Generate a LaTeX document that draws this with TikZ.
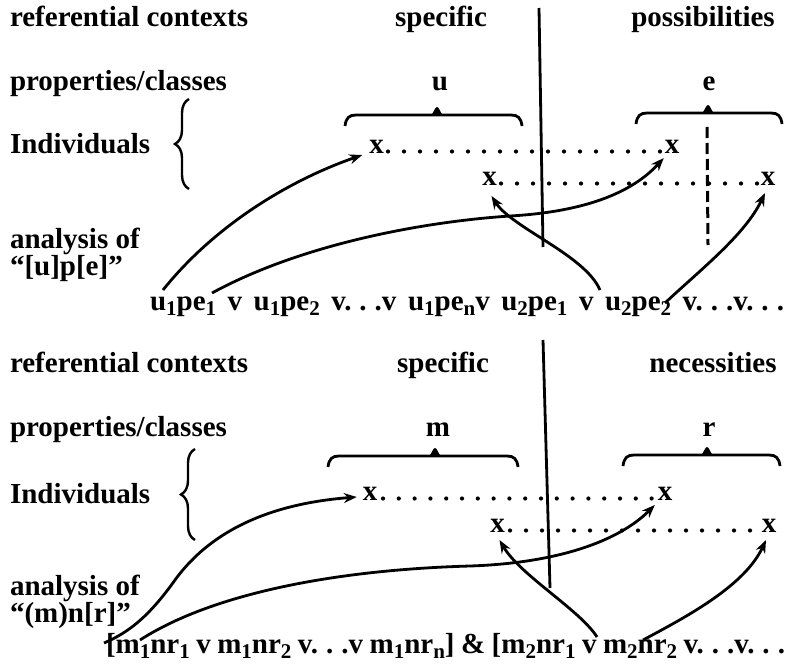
\documentclass[tikz,border=0pt]{standalone}
\usepackage{fontspec}
\setmainfont{Liberation Serif}
\usetikzlibrary{arrows.meta,calc,decorations.pathreplacing}
\newcommand\fsz{\fontsize{29pt}{33pt}\selectfont\bfseries}
\newcommand\lsub[1]{\raisebox{-0.18em}{\fontsize{21pt}{21pt}\selectfont #1}}
\newcommand\ddd{.\kern8pt.\kern8pt.}
\newcommand\ovbr[4]{%
  \draw[brk] (#1,#3+11) .. controls (#1+1,#3+3) and (#1+4,#3) .. (#1+11,#3) -- (#2-11,#3) .. controls (#2-4,#3) and (#2-1,#3+3) .. (#2,#3+11);
  \fill (#4-6,#3+0.5) .. controls (#4-3,#3-3) and (#4-2,#3-8) .. (#4,#3-8) .. controls (#4+2,#3-8) and (#4+3,#3-3) .. (#4+6,#3+0.5) -- cycle;}
\begin{document}
\begin{tikzpicture}[x=1pt,y=-1pt,
  every node/.style={font=\fsz, inner sep=0pt, outer sep=0pt},
  lbl/.style={anchor=base west},
  ctr/.style={anchor=base},
  arr/.style={-{Stealth[length=13pt,width=10pt]}, line width=2.8pt},
  dotrow/.style={line width=4.2pt, line cap=round, dash pattern=on 0pt off #1},
  brk/.style={line width=2.8pt},
  vline/.style={line width=2.8pt},
  dline/.style={line width=3pt, dash pattern=on 11pt off 5pt},
  brc/.style={decorate, decoration={brace, amplitude=14pt}, line width=2.4pt}]
\useasboundingbox (0,0) rectangle (789,666);

% ---------- top panel ----------
\node[lbl] (rc1) at (10,27) {referential contexts};
\node[ctr] (sp1) at (441,27) {specific};
\node[ctr] (po1) at (703,27) {possibilities};
\node[lbl] (pc1) at (10,91) {properties/classes};
\node[ctr] (u1) at (440,91) {u};
\node[ctr] (e1) at (709,91) {e};
\node[lbl] (in1) at (10,153) {Individuals};
\node[lbl] (an1) at (10,248) {analysis of};
\node[lbl] (qu1) at (10,275) {“[u]p[e]”};
\node[lbl] (f1) at (150,310) {\makebox[634pt][s]{u\lsub1pe\lsub1 v u\lsub1pe\lsub2 v\ddd v u\lsub1pe\lsub{n}v u\lsub2pe\lsub1 v u\lsub2pe\lsub2 v\ddd v\ddd}};

\draw[brc] (189,189) -- (189,99);
\ovbr{345}{522}{115}{437}
\ovbr{636}{782}{113}{708}
\draw[vline] (539,8) -- (543,247);
\draw[dline] (707,127) -- (708,245);

\node[ctr] (x1) at (376.5,153) {x};
\node[ctr] (x1r) at (672,153) {x};
\node[ctr] (x2) at (489.5,185) {x};
\node[ctr] (x2r) at (768,185) {x};
\draw[dotrow=16pt] (388,151.5) -- (661,151.5);
\draw[dotrow=16pt] (501,183.5) -- (758,183.5);

\coordinate (sA1) at (163,290);
\coordinate (sA2) at (212,293);
\coordinate (sA3) at (600,290);
\coordinate (sA4) at (665,303);
\draw[arr] (sA1) .. controls (215,225) and (290,180) .. ($(x1.base west)+(-7,2)$);
\draw[arr] (sA2) .. controls (300,245) and (420,222) .. (510,216) .. controls (580,212) and (630,195) .. ($(x1r.base west)+(-1,5)$);
\draw[arr] (sA3) .. controls (585,255) and (512,228) .. ($(x2.base)+(2,11)$);
\draw[arr] (sA4) .. controls (700,270) and (745,235) .. ($(x2r.base)+(-3,8)$);

% ---------- bottom panel ----------
\node[lbl] (rc2) at (10,372) {referential contexts};
\node[ctr] (sp2) at (443,372) {specific};
\node[ctr] (ne2) at (713,372) {necessities};
\node[lbl] (pc2) at (10,436) {properties/classes};
\node[ctr] (m2) at (438,436) {m};
\node[ctr] (r2) at (709,436) {r};
\node[lbl] (in2) at (10,503) {Individuals};
\node[lbl] (an2) at (10,595) {analysis of};
\node[lbl] (qu2) at (10,622) {“(m)n[r]”};
\node[lbl] (f2) at (106,653) {\makebox[679pt][s]{[m\lsub1nr\lsub1 v m\lsub1nr\lsub2 v\ddd v m\lsub1nr\lsub{n}] \& [m\lsub2nr\lsub1 v m\lsub2nr\lsub2 v\ddd v\ddd}};

\draw[brc] (195,540) -- (195,449);
\ovbr{328}{518}{456}{435}
\ovbr{623}{780}{455}{707}
\draw[vline] (543,340) -- (550,588);

\node[ctr] (y1) at (370,500) {x};
\node[ctr] (y1r) at (665,500) {x};
\node[ctr] (y2) at (497.5,532) {x};
\node[ctr] (y2r) at (769,532) {x};
\draw[dotrow=15.8pt] (383,498.5) -- (653,498.5);
\draw[dotrow=16pt] (510,530.5) -- (751,530.5);

\coordinate (sB1) at (104,643);
\coordinate (sB2) at (140,640);
\coordinate (sB3) at (597,637);
\coordinate (sB4) at (643,640);
\draw[arr] (sB1) .. controls (130,632) and (150,615) .. (175,580) .. controls (215,525) and (280,503) .. ($(y1.base west)+(-6,-3)$);
\draw[arr] (sB2) .. controls (210,595) and (330,570) .. (470,566) .. controls (560,563) and (620,540) .. ($(y1r.base west)+(-3,5)$);
\draw[arr] (sB3) .. controls (580,610) and (520,575) .. ($(y2.base)+(2,8)$);
\draw[arr] (sB4) .. controls (690,615) and (745,585) .. ($(y2r.base)+(-3,8)$);
\end{tikzpicture}
\end{document}
